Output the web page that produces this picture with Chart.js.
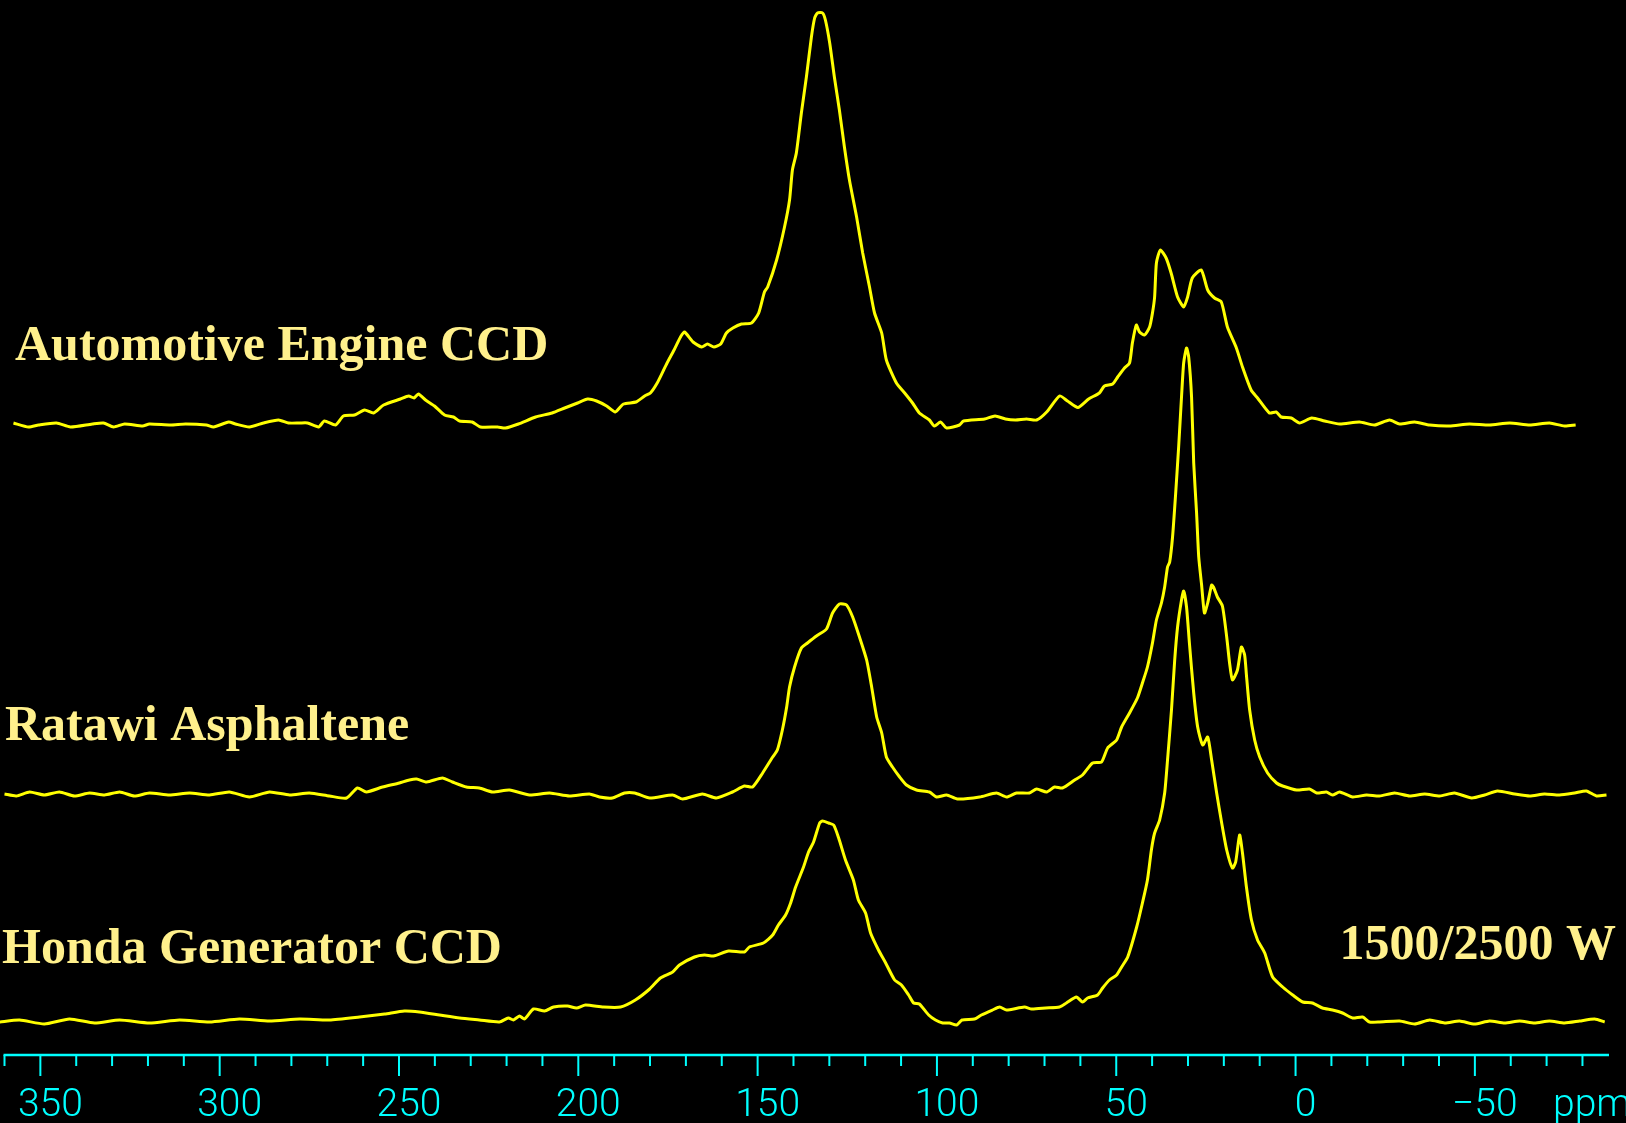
<!DOCTYPE html>
<html><head><meta charset="utf-8">
<script src="https://cdn.jsdelivr.net/npm/chart.js@4.4.0/dist/chart.umd.min.js"></script>
<style>html,body{margin:0;padding:0;background:#000;overflow:hidden}canvas{display:block}</style>
</head><body>
<div style="width:1626px;height:1123px"><canvas id="c" width="1626" height="1123"></canvas></div>
<script>
// ---- data (chemical shift in ppm, intensity above each trace's own baseline) ----
const seriesNames = ['Automotive Engine CCD', 'Ratawi Asphaltene', 'Honda Generator CCD'];
const seriesBaselines = [630, 261, 34];
const powerNote = '1500/2500 W';

const autoPpm = [357.5,353.3,350.5,345.5,341.6,335.5,332.4,329.6,326.5,321.5,
319.6,313.7,309.5,303.7,301.7,297.5,295.6,291.7,287.8,283.6,
280.8,277.7,275.5,272.4,270.8,267.7,265.5,262.4,259.6,257.1,
254.3,249.6,247.3,245.8,244.6,242.6,240.1,237.3,234.8,233.1,
229.6,227.3,222.5,220.3,216.7,211.9,207.3,203.8,200.2,197.4,
194.9,192.1,189.7,187.4,183.9,181.5,179.9,178.0,176.2,175.1,
173.3,171.5,170.4,168.0,165.6,164.0,162.2,160.3,158.7,156.9,
154.5,151.7,149.7,148.1,147.2,144.7,142.5,141.1,140.3,139.2,
137.8,136.4,135.0,134.1,133.3,131.9,131.1,129.9,128.6,127.2,
125.8,124.4,122.4,120.7,118.8,117.4,115.4,114.1,111.3,109.0,
106.8,104.9,102.1,100.7,99.0,97.3,93.7,92.6,86.7,83.8,
80.9,78.1,75.0,72.2,69.4,65.8,63.6,60.7,57.7,54.7,
53.3,51.0,49.6,47.7,46.3,45.5,44.4,43.5,42.1,40.7,
39.9,39.3,38.8,37.7,36.1,34.7,32.9,31.2,30.1,28.8,
26.3,24.5,22.6,20.7,19.0,16.5,14.8,12.4,10.6,7.3,
5.4,4.0,1.2,-1.1,-4.5,-8.1,-12.3,-17.8,-22.0,-26.2,
-29.0,-33.2,-37.4,-42.9,-48.5,-54.1,-59.7,-65.3,-70.8,-75.0,-78.1];
const autoInt = [2,-2,0,2,-2,1,2,-2,1,-1,
1,0,1,0,-2,3,1,-2,2,5,
2,2,2,-2,4,0,9,10,15,12,
20,26,29,27,31,25,19,10,8,4,
3,-2,-2,-3,1,8,12,17,22,26,
24,19,13,21,23,29,32,42,55,63,
75,88,93,83,78,81,78,81,92,97,
101,102,112,133,138,165,198,225,255,272,
312,348,388,407,412,412,405,382,348,315,
278,245,208,172,138,112,92,65,42,32,
22,12,5,-1,3,-3,0,4,6,9,
6,5,6,5,13,29,24,17.5,26,32,
39,41,48,57,62,82,100,93,90,98,
112,128,162,175,167,152,128,118,128,147,
155,135,127,123,98,77,58,35,27,12,
13,8,7,2,7,4,1,3,0,5,
1,3,0,-1,1,0,2,0,2,-1,0];

const ratawiPpm = [360.0,356.7,353.0,348.9,344.7,340.5,336.3,332.1,327.9,323.8,
319.6,314.0,308.4,302.8,297.3,291.7,286.1,280.5,275.0,269.4,
264.6,261.6,259.1,254.6,249.9,247.1,245.1,242.3,237.9,235.1,
231.2,227.6,223.9,219.2,213.6,208.0,202.5,196.9,194.1,190.5,
187.1,184.3,180.1,173.7,170.9,165.4,161.5,157.0,153.7,151.4,
148.6,145.8,144.5,143.1,141.9,141.1,139.7,137.8,136.1,133.6,
130.8,129.1,127.2,125.2,123.5,121.6,119.6,118.2,116.8,115.4,
114.1,112.4,110.4,108.5,105.7,102.1,100.1,97.3,94.3,88.1,
83.4,80.6,77.8,74.2,72.2,69.4,67.2,65.0,61.6,59.4,
56.6,54.1,52.4,49.9,48.5,46.3,44.1,42.7,41.3,39.9,
38.8,37.4,36.5,35.7,35.1,34.3,33.5,32.6,31.8,31.2,
30.4,29.8,29.0,28.4,27.6,27.0,26.2,25.4,24.5,23.4,
22.9,21.8,20.4,19.2,18.4,17.6,16.2,15.1,14.2,13.7,
12.8,11.4,10.0,7.8,5.3,3.6,-0.3,-3.9,-5.9,-8.6,
-10.3,-12.3,-15.9,-19.8,-23.4,-27.6,-31.8,-36.0,-40.2,-44.3,
-49.1,-52.7,-56.3,-61.1,-65.3,-69.4,-73.6,-77.8,-81.1,-83.9,-86.7];
const ratawiInt = [0,-2,2,-1,2,-2,1,-1,2,-2,
1,-1,1,-1,2,-3,2,-1,1,-2,
-4,6,2,7,11,14,15,12,16,12,
7,6,2,4,-1,1,-2,0,-3,-4,
1,1,-4,-1,-5,0,-4,2,8,7,
21,37,44,64,87,107,127,146,151,158,
165,181,190,189,177,157,134,107,77,61,
37,27,17,9,4,2,-3,-1,-5,-3,
1,-3,1,1,5,2,7,6,14,19,
31,32,46,54,67,81,96,111,127,151,
174,191,207,227,232,257,297,347,397,431,
446,437,397,331,281,237,209,181,191,209,
207,197,188,157,131,114,124,147,139,119,
84,54,37,21,11,8,4,5,1,2,
-1,2,-3,-1,-2,1,-2,0,-2,1,
-4,-1,3,0,-2,0,-1,1,3,-2,-1];

const hondaPpm = [361.4,355.8,348.9,341.9,334.9,327.9,319.6,311.2,302.8,294.5,
286.1,277.7,269.4,261.0,254.0,248.5,244.3,238.7,233.1,227.6,
222.0,219.5,218.1,216.4,215.0,212.5,209.4,206.9,203.0,200.5,
198.0,193.0,188.2,184.1,180.1,177.1,173.7,171.8,167.6,164.8,
162.3,158.1,153.7,152.3,148.4,145.8,144.2,142.2,140.8,139.4,
137.2,135.8,134.4,132.7,131.9,130.2,128.8,127.4,125.5,123.3,
121.9,119.9,118.5,116.3,114.3,111.8,109.9,107.9,106.5,104.9,
102.3,100.4,98.4,96.5,94.5,93.0,89.5,87.6,84.5,82.5,
80.6,75.6,73.6,69.7,65.8,63.9,61.1,59.4,58.0,55.2,
53.8,51.9,49.9,48.5,46.8,44.3,42.7,41.3,40.2,39.3,
37.9,36.5,35.7,34.6,33.7,32.9,31.8,31.2,30.4,29.6,
28.4,27.3,25.9,24.5,23.4,22.0,20.6,19.2,17.6,16.7,
15.6,14.8,13.7,12.3,10.6,8.6,6.4,3.6,0.8,-2.0,
-4.7,-7.5,-10.3,-13.1,-15.9,-18.7,-20.6,-23.4,-29.0,-33.2,
-37.4,-41.6,-45.7,-49.9,-54.1,-58.3,-62.5,-66.6,-70.8,-75.0,
-79.2,-83.4,-86.2];
const hondaInt = [-1,1,-3,2,-2,1,-2,1,-1,2,
0,2,1,4,7,10,9,6,3,1,
-1,3,1,5,2,12,10,14,15,13,
16,14,14,21,32,43,49,56,64,66,
65,70,69,74,78,86,96,106,118,134,
154,169,179,198,200,198,196,183,161,141,
121,108,88,71,58,41,36,26,18,17,
6,1,-2,-2,-4,1,2,6,11,14,
11,14,12,13,14,18,24,19,23,26,
33,41,46,54,64,94,118,141,171,188,
201,228,261,311,361,394,421,430,414,378,
328,294,276,284,261,228,198,171,153,159,
186,168,134,101,81,68,44,34,26,19,
18,13,11,8,3,4,-1,-1,0,-3,
1,-2,0,-3,0,-2,0,-2,0,-2,
0,2,-1];

// axis ticks (ppm)
const majorTicks = [350,300,250,200,150,100,50,0,-50];
const majorTickLabels = ['350','300','250','200','150','100','50','0','\u221250'];
const minorTicks = [360,340,330,320,310,290,280,270,260,240,230,220,210,190,180,170,160,140,130,120,110,90,80,70,60,40,30,20,10,-10,-20,-30,-40,-60,-70,-80];
const axisUnit = 'ppm';
const axisMin = -87.4, axisMax = 360;

// ---- build datasets from the arrays ----
const ppmSets = [autoPpm, ratawiPpm, hondaPpm];
const intSets = [autoInt, ratawiInt, hondaInt];
const datasets = seriesNames.map((name, k) => ({
  label: name,
  data: ppmSets[k].map((p, i) => ({ x: p, y: seriesBaselines[k] + intSets[k][i] })),
  borderColor: '#ffff00',
  borderWidth: 3,
  pointRadius: 0,
  tension: 0.2,
  clip: false,
  fill: false
}));

const CYAN = '#00ffff';
const TEXT_YELLOW = '#fff08c';
const TICK_FONT = '"Roboto", "Liberation Sans", Arial, sans-serif';

const bgPlugin = {
  id: 'bg',
  beforeDraw(chart) {
    const c = chart.ctx;
    c.save(); c.fillStyle = '#000'; c.fillRect(0, 0, chart.width, chart.height); c.restore();
  }
};

const axisPlugin = {
  id: 'axisMarks',
  afterDraw(chart) {
    const { ctx, chartArea } = chart;
    const x = chart.scales.x;
    const y0 = chartArea.bottom;
    ctx.save();
    ctx.strokeStyle = CYAN;
    ctx.lineWidth = 2.5;
    ctx.beginPath();
    ctx.moveTo(chartArea.left - 1, y0);
    ctx.lineTo(chartArea.right, y0);
    ctx.stroke();
    ctx.lineWidth = 2;
    minorTicks.forEach(v => {
      const px = x.getPixelForValue(v);
      ctx.beginPath(); ctx.moveTo(px, y0); ctx.lineTo(px, y0 + 11); ctx.stroke();
    });
    majorTicks.forEach(v => {
      const px = x.getPixelForValue(v);
      ctx.beginPath(); ctx.moveTo(px, y0); ctx.lineTo(px, y0 + 21); ctx.stroke();
    });
    ctx.fillStyle = CYAN;
    ctx.font = '300 39px ' + TICK_FONT;
    ctx.textAlign = 'left';
    ctx.textBaseline = 'alphabetic';
    ctx.fillText(axisUnit, 1553, 1116);
    ctx.restore();
  }
};

const labelPlugin = {
  id: 'traceLabels',
  afterDraw(chart) {
    const ctx = chart.ctx;
    ctx.save();
    ctx.fillStyle = TEXT_YELLOW;
    ctx.font = 'bold 50px "Liberation Serif", "Times New Roman", serif';
    ctx.textBaseline = 'alphabetic';
    ctx.textAlign = 'left';
    ctx.fillText(seriesNames[0], 15, 360);
    ctx.fillText(seriesNames[1], 5, 740);
    ctx.fillText(seriesNames[2], 2, 963);
    ctx.textAlign = 'right';
    ctx.fillText(powerNote, 1616, 959);
    ctx.restore();
  }
};

new Chart(document.getElementById('c'), {
  type: 'line',
  data: { datasets },
  options: {
    responsive: false,
    animation: false,
    devicePixelRatio: 1,
    layout: { padding: { left: 4.5, right: 17, top: 0, bottom: 0 } },
    plugins: { legend: { display: false }, tooltip: { enabled: false }, title: { display: false } },
    scales: {
      x: {
        type: 'linear',
        reverse: true,
        min: axisMin,
        max: axisMax,
        position: 'bottom',
        grid: { display: false, drawTicks: false },
        border: { display: false },
        afterBuildTicks: s => { s.ticks = majorTicks.map(v => ({ value: v })); },
        afterFit: s => { s.height = 68; s.paddingLeft = 0; s.paddingRight = 0; },
        ticks: {
          color: CYAN,
          font: { family: TICK_FONT, size: 39, weight: '300' },
          padding: 28,
          labelOffset: 10,
          maxRotation: 0,
          minRotation: 0,
          autoSkip: false,
          callback: (v, i) => majorTickLabels[i]
        }
      },
      y: { display: false, min: 0, max: 1055 }
    }
  },
  plugins: [bgPlugin, axisPlugin, labelPlugin]
});
</script>
</body></html>
